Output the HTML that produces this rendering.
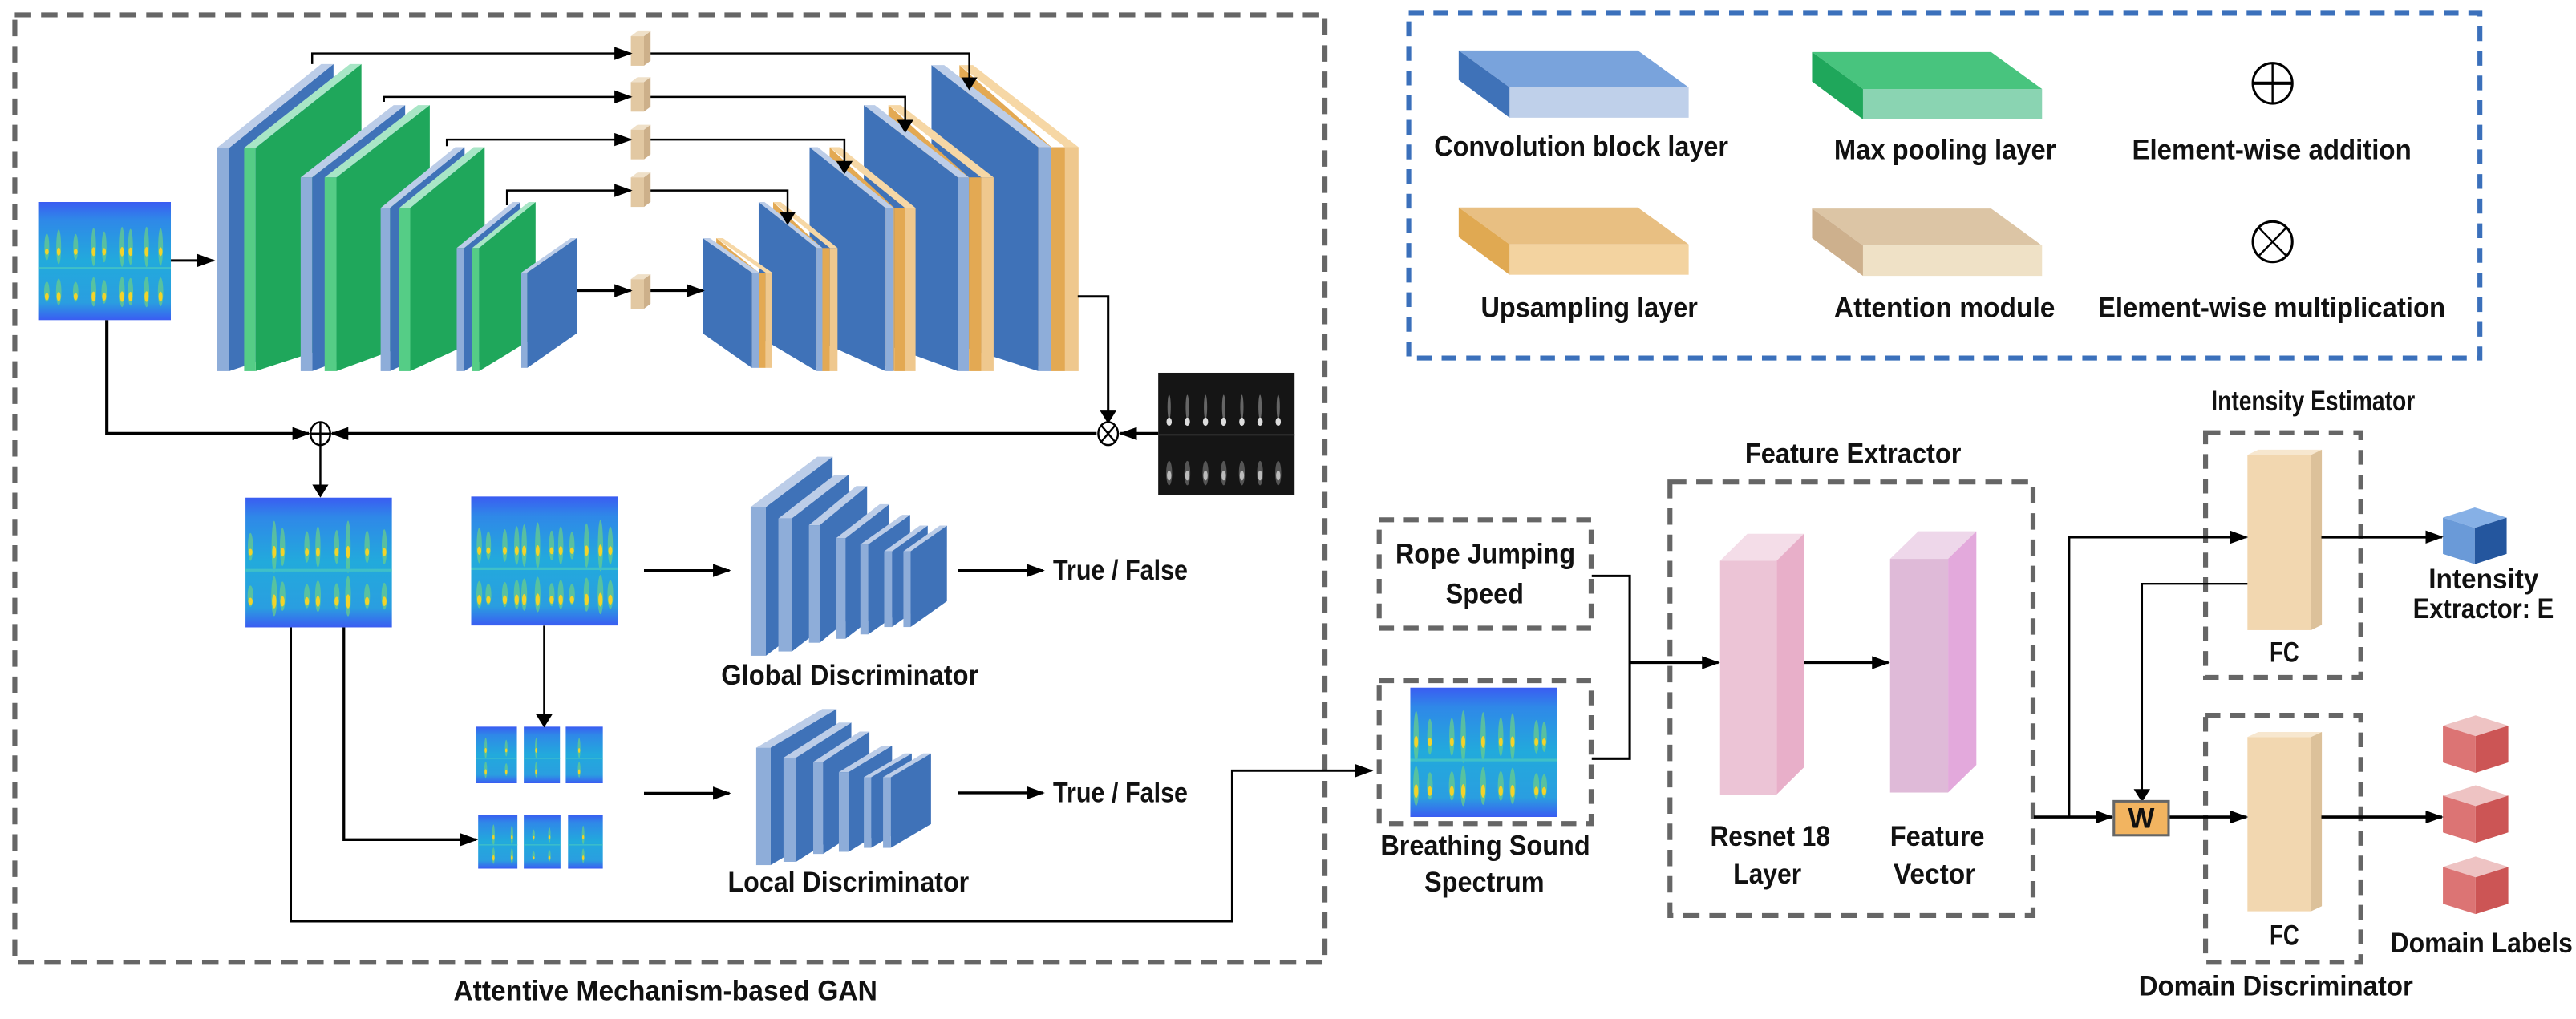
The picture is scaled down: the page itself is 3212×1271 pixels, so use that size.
<!DOCTYPE html>
<html><head><meta charset="utf-8"><style>
html,body{margin:0;padding:0;background:#fff;}
svg{display:block;}
text{font-family:"Liberation Sans Narrow","Liberation Sans",sans-serif;font-weight:bold;font-size:17px;fill:#111;}
</style></head><body>
<svg id="s" width="3212" height="1271" viewBox="0 0 1568 620.5" preserveAspectRatio="none" xmlns="http://www.w3.org/2000/svg">
<defs>
<marker id="a" markerUnits="userSpaceOnUse" markerWidth="11" markerHeight="8" refX="10" refY="4" orient="auto"><path d="M0,0 L11,4 L0,8 z" fill="#000"/></marker>
<marker id="b" markerUnits="userSpaceOnUse" markerWidth="8" markerHeight="12" refX="7" refY="6" orient="auto"><path d="M0,1 L8,6 L0,11 z" fill="#000"/></marker>
<linearGradient id="sg" x1="0" y1="0" x2="0" y2="1">
<stop offset="0" stop-color="#3a5cf2"/><stop offset="0.15" stop-color="#2f88e8"/><stop offset="0.5" stop-color="#22aadc"/><stop offset="0.85" stop-color="#2a9ee0"/><stop offset="1" stop-color="#3a5cf2"/>
</linearGradient>
</defs>
<g id="shapes"></g>
<g fill="none" stroke-width="3">
<rect x="9" y="9" width="797.5" height="577" stroke="#666" stroke-dasharray="10 6"/>
<rect x="857.5" y="8" width="652" height="210" stroke="#3b70bb" stroke-dasharray="9 6"/>
<rect x="839.5" y="316.5" width="129" height="66" stroke="#666" stroke-dasharray="9 6"/>
<rect x="839.5" y="414.5" width="129" height="87" stroke="#666" stroke-dasharray="9 6"/>
<rect x="1016.5" y="293.5" width="221" height="264" stroke="#666" stroke-dasharray="10 6"/>
<rect x="1342.5" y="263.5" width="94.5" height="149" stroke="#666" stroke-dasharray="9 6"/>
<rect x="1342.5" y="435.5" width="94.5" height="150.5" stroke="#666" stroke-dasharray="9 6"/>
</g>
<g stroke="#000" fill="none" stroke-width="1.2">
<polyline points="190,39 190,32.5 384,32.5" marker-end="url(#a)"/>
<polyline points="396,32.5 590,32.5 590,54" marker-end="url(#b)"/>
<polyline points="233.7,62 233.7,59 384,59" marker-end="url(#a)"/>
<polyline points="396,59 551,59 551,80" marker-end="url(#b)"/>
<polyline points="272,89 272,85 384,85" marker-end="url(#a)"/>
<polyline points="396,85 514,85 514,105" marker-end="url(#b)"/>
<polyline points="308.6,125 308.6,116 384,116" marker-end="url(#a)"/>
<polyline points="396,116 479.4,116 479.4,136" marker-end="url(#b)"/>
<line x1="351" y1="177" x2="384" y2="177" stroke-width="1.5" marker-end="url(#a)"/>
<line x1="396" y1="177" x2="428" y2="177" stroke-width="1.5" marker-end="url(#a)"/>
<line x1="104" y1="158.6" x2="130" y2="158.6" stroke-width="1.5" marker-end="url(#a)"/>
<polyline points="656,180.5 674.5,180.5 674.5,257" stroke-width="1.5" marker-end="url(#b)"/>
<line x1="705" y1="264" x2="682" y2="264" stroke-width="2" marker-end="url(#a)"/>
<line x1="667.5" y1="264" x2="202" y2="264" stroke-width="2" marker-end="url(#a)"/>
<polyline points="65,195 65,264 188,264" stroke-width="2" marker-end="url(#a)"/>
<line x1="195" y1="271" x2="195" y2="302" marker-end="url(#b)"/>
<line x1="392" y1="347.4" x2="444" y2="347.4" stroke-width="1.6" marker-end="url(#a)"/>
<line x1="392" y1="483" x2="444" y2="483" stroke-width="1.6" marker-end="url(#a)"/>
<line x1="583" y1="347.4" x2="635" y2="347.4" stroke-width="1.6" marker-end="url(#a)"/>
<line x1="583" y1="482.8" x2="635" y2="482.8" stroke-width="1.6" marker-end="url(#a)"/>
<line x1="331.2" y1="381" x2="331.2" y2="442" marker-end="url(#b)"/>
<polyline points="209.3,382 209.3,511.3 290,511.3" stroke-width="1.6" marker-end="url(#a)"/>
<polyline points="177,382 177,561 750,561 750,469.3 835,469.3" stroke-width="1.4" marker-end="url(#a)"/>
<polyline points="968.9,350.7 992,350.7 992,462 968.9,462" stroke-width="1.5"/>
<line x1="992" y1="403.5" x2="1046" y2="403.5" stroke-width="1.6" marker-end="url(#a)"/>
<line x1="1098" y1="403.5" x2="1149.5" y2="403.5" stroke-width="1.6" marker-end="url(#a)"/>
<line x1="1238" y1="497.5" x2="1285.7" y2="497.5" stroke-width="1.8" marker-end="url(#a)"/>
<polyline points="1259.4,497.5 1259.4,327.1 1367.5,327.1" stroke-width="1.5" marker-end="url(#a)"/>
<polyline points="1368,355.5 1303.8,355.5 1303.8,487.5" stroke-width="1.2" marker-end="url(#b)"/>
<line x1="1320" y1="497.5" x2="1367.5" y2="497.5" stroke-width="1.8" marker-end="url(#a)"/>
<line x1="1413" y1="327" x2="1486.4" y2="327" stroke-width="1.8" marker-end="url(#a)"/>
<line x1="1413" y1="497.5" x2="1486.4" y2="497.5" stroke-width="1.8" marker-end="url(#a)"/>
</g>
<g stroke="#000" fill="#fff" stroke-width="1.2">
<ellipse cx="195" cy="264" rx="6" ry="7"/><line x1="189" y1="264" x2="201" y2="264"/><line x1="195" y1="257" x2="195" y2="271"/>
<ellipse cx="674.5" cy="264" rx="6" ry="7"/><line x1="670.3" y1="259" x2="678.7" y2="269"/><line x1="678.7" y1="259" x2="670.3" y2="269"/>
<ellipse cx="1383.3" cy="50.7" rx="12" ry="12.3" stroke-width="1.5"/><line x1="1371.3" y1="50.7" x2="1395.3" y2="50.7" stroke-width="2"/><line x1="1383.3" y1="38.4" x2="1383.3" y2="63"/>
<ellipse cx="1383.3" cy="147.2" rx="12" ry="12.3" stroke-width="1.5"/><line x1="1374.8" y1="138.5" x2="1391.8" y2="155.9"/><line x1="1391.8" y1="138.5" x2="1374.8" y2="155.9"/>
</g>
<rect x="1286.7" y="487.9" width="33.3" height="20.7" fill="#f2b460" stroke="#666" stroke-width="1.5"/>
<text x="1303.4" y="504" text-anchor="middle">W</text>
<text x="873" y="95" textLength="179" lengthAdjust="spacingAndGlyphs">Convolution block layer</text>
<text x="1116.4" y="97" textLength="135" lengthAdjust="spacingAndGlyphs">Max pooling layer</text>
<text x="1297.8" y="97" textLength="170" lengthAdjust="spacingAndGlyphs">Element-wise addition</text>
<text x="901.4" y="193" textLength="132" lengthAdjust="spacingAndGlyphs">Upsampling layer</text>
<text x="1116.4" y="193" textLength="134.5" lengthAdjust="spacingAndGlyphs">Attention module</text>
<text x="1277" y="193" textLength="211.5" lengthAdjust="spacingAndGlyphs">Element-wise multiplication</text>
<text x="641" y="353" textLength="82" lengthAdjust="spacingAndGlyphs">True / False</text>
<text x="641" y="488.5" textLength="82" lengthAdjust="spacingAndGlyphs">True / False</text>
<text x="439" y="417" textLength="156.7" lengthAdjust="spacingAndGlyphs">Global Discriminator</text>
<text x="443" y="543" textLength="146.8" lengthAdjust="spacingAndGlyphs">Local Discriminator</text>
<text x="849.4" y="343" textLength="109.4" lengthAdjust="spacingAndGlyphs">Rope Jumping</text>
<text x="880" y="367.3" textLength="47.5" lengthAdjust="spacingAndGlyphs">Speed</text>
<text x="840.3" y="520.7" textLength="127.6" lengthAdjust="spacingAndGlyphs">Breathing Sound</text>
<text x="867" y="543" textLength="73" lengthAdjust="spacingAndGlyphs">Spectrum</text>
<text x="1062.2" y="282" textLength="131.6" lengthAdjust="spacingAndGlyphs">Feature Extractor</text>
<text x="1041" y="515" textLength="73" lengthAdjust="spacingAndGlyphs">Resnet 18</text>
<text x="1055" y="538" textLength="41.5" lengthAdjust="spacingAndGlyphs">Layer</text>
<text x="1150.5" y="515" textLength="57.5" lengthAdjust="spacingAndGlyphs">Feature</text>
<text x="1152.5" y="538" textLength="50" lengthAdjust="spacingAndGlyphs">Vector</text>
<text x="1381.5" y="403" textLength="18" lengthAdjust="spacingAndGlyphs">FC</text>
<text x="1381.5" y="575.4" textLength="18" lengthAdjust="spacingAndGlyphs">FC</text>
<text x="1346" y="250" textLength="124" lengthAdjust="spacingAndGlyphs">Intensity Estimator</text>
<text x="1478.3" y="358.4" textLength="67" lengthAdjust="spacingAndGlyphs">Intensity</text>
<text x="1468.7" y="376.5" textLength="85.8" lengthAdjust="spacingAndGlyphs">Extractor: E</text>
<text x="1455" y="580" textLength="111" lengthAdjust="spacingAndGlyphs">Domain Labels</text>
<text x="1301.8" y="606" textLength="167" lengthAdjust="spacingAndGlyphs">Domain Discriminator</text>
<text x="276" y="609" textLength="258" lengthAdjust="spacingAndGlyphs">Attentive Mechanism-based GAN</text>
</svg>
<script>
(function(){
var NS="http://www.w3.org/2000/svg",G=document.getElementById("shapes");
function el(t,a,p){var e=document.createElementNS(NS,t);for(var k in a)e.setAttribute(k,a[k]);(p||G).appendChild(e);return e;}
function poly(pts,f){el("polygon",{points:pts.map(function(p){return p.join(",")}).join(" "),fill:f});}
function rect(x,y,w,h,f,p){return el("rect",{x:x,y:y,width:w,height:h,fill:f},p);}
var BL={front:"#8eadd9",face:"#3f72b8",top:"#bccde8"},GR={front:"#55cd86",face:"#1fa75b",top:"#a8e6c6"},OR={front:"#e3a953",front2:"#efc88e",face:"#e3a953",top:"#f6d7a5",narrow:1};
function encL(xf,wf,yt,yb,xr,dy,c,dyb){if(dyb===undefined)dyb=Math.min(dy,21);
 poly([[xf+wf,yt],[xr,yt-dy],[xr,yb-dyb],[xf+wf,yb]],c.face);
 poly([[xf,yt],[xr-wf,yt-dy],[xr,yt-dy],[xf+wf,yt]],c.top);
 rect(xf,yt,wf,yb-yt,c.front);}
function decL(xl,xf,wf,yt,yb,dy,c){var dyb=Math.min(dy,21);
 poly([[xl,yt-dy],[xf,yt],[xf,yb],[xl,yb-dyb]],c.face);
 if(c.narrow){var w2=wf/2;poly([[xl,yt-dy],[xl+w2,yt-dy],[xf+wf,yt],[xf+wf-w2,yt]],c.top);}
 else poly([[xl,yt-dy],[xl+wf,yt-dy],[xf+wf,yt],[xf,yt]],c.top);
 if(c.front2){rect(xf,yt,wf/2,yb-yt,c.front);rect(xf+wf/2,yt,wf/2,yb-yt,c.front2);}else rect(xf,yt,wf,yb-yt,c.front);}
var seed=7;function rnd(){seed=(seed*9301+49297)%233280;return seed/233280;}
function spec(x,y,w,h,n){var g=el("g",{});var id="c"+Math.floor(rnd()*1e6);
 var cp=el("clipPath",{id:id},g);rect(x,y,w,h,"#000",cp);
 var gg=el("g",{"clip-path":"url(#"+id+")"},g);rect(x,y,w,h,"url(#sg)",gg);
 n=n||8;for(var i=0;i<n;i++){var cx=x+w*(i+0.5+(rnd()-0.5)*0.6)/n;var s=0.6+rnd()*0.6;
  el("ellipse",{cx:cx,cy:y+h*0.38,rx:w*0.012+0.5,ry:h*0.17*s,fill:"#6ccf86",opacity:0.7},gg);
  el("ellipse",{cx:cx,cy:y+h*0.42,rx:w*0.009+0.4,ry:h*0.04*s,fill:"#f2d32a"},gg);
  el("ellipse",{cx:cx,cy:y+h*0.76,rx:w*0.014+0.5,ry:h*0.13*s,fill:"#6ccf86",opacity:0.7},gg);
  el("ellipse",{cx:cx,cy:y+h*0.8,rx:w*0.01+0.4,ry:h*0.045*s,fill:"#f2d32a"},gg);}
 rect(x,y+h*0.55,w,h*0.02,"#3fc0c8",gg);}
function gray(x,y,w,h){rect(x,y,w,h,"#151515");for(var i=0;i<7;i++){var cx=x+w*(i+0.6)/7.5;
 el("ellipse",{cx:cx,cy:y+h*0.28,rx:1,ry:h*0.1,fill:"#666"});el("ellipse",{cx:cx,cy:y+h*0.4,rx:1.6,ry:2.5,fill:"#ddd"});
 el("ellipse",{cx:cx,cy:y+h*0.82,rx:1.8,ry:h*0.1,fill:"#555"});el("ellipse",{cx:cx,cy:y+h*0.84,rx:1.3,ry:3,fill:"#bbb"});}
 rect(x,y+h*0.5,w,1,"#333");}
encL(132,7.5,90,226,203,51,BL);encL(148.6,7,90,226,220,51,GR);
encL(183,7,108,226,246.6,44,BL);encL(197.6,7.2,108,226,261.6,44,GR);
encL(231.7,5.7,126.6,226,282.8,37,BL);encL(243,6.7,126.6,226,295,37,GR);
encL(278,4.6,151,226,316.8,28,BL);encL(287.4,4.2,151,226,326,28,GR);
encL(317.3,3.6,166,224,351,21,BL);
decL(584,640,16.5,89.6,226,50,OR);decL(567,632,7.7,89.6,226,50,BL);
decL(540.8,589.8,15,108,226,44,OR);decL(525.8,583,6.7,108,226,44,BL);
decL(505,544.4,12.9,126.6,226,37,OR);decL(492.8,539,5,126.6,226,37,BL);
decL(470.6,500.5,9.3,151,226,28,OR);decL(461.8,497,3.6,151,226,28,BL);
decL(436,462,8,166,224,21,OR);decL(427.8,457.7,4.3,166,224,21,BL);
[19,47,76,105,167].forEach(function(y){poly([[384,y+3],[388,y],[396,y],[392,y+3]],"#efe0c8");rect(384,y+3,8,18,"#e2c8a2");poly([[392,y+3],[396,y],[396,y+18],[392,y+21]],"#cdb08a");});
var gd=[[456.9,9.3,308.7,399.3,506.8,278.1],[473.8,8.2,315.7,396.7,516.5,289],[492.4,6.6,319.8,391.4,527.8,296],[508.9,5.8,327.7,389,541.3,307],[523.7,4.8,331.5,386.3,554,313.5],[538.2,4.8,335.7,381.8,564.7,320],[549.9,4.4,335.7,381.8,576.4,320]];
gd.forEach(function(d){var dy=d[2]-d[5];encL(d[0],d[1],d[2],d[3],d[4],dy,BL,dy);});
var ld=[[460.3,8.7,455.3,526.8,509.2,431.7],[476.9,7.6,461.4,524.8,518.2,440],[495,6,464,520,529.2,445.5],[510.6,5.9,470.2,518.7,543,454],[525.8,4.5,473.3,516.3,555,458.8],[537.5,4.8,473.3,516.3,566.7,458.8]];
ld.forEach(function(d){var dy=d[2]-d[5];encL(d[0],d[1],d[2],d[3],d[4],dy,BL,dy);});
function slab(x,y,c1,c2,c3){poly([[x,y],[x+109,y],[x+140,y+22.5],[x+31,y+22.5]],c1);poly([[x,y],[x+31,y+22.5],[x+31,y+41],[x,y+18]],c2);rect(x+31,y+22.5,109,18.5,c3);}
slab(887.9,30.7,"#79a3dc","#3f72b8","#bfd0ea");slab(1103,31.7,"#48c47e","#1fa75b","#8ad4b2");
slab(887.9,126.3,"#e8bf82","#e0a952","#f3d3a0");slab(1103,127,"#dcc5a5","#cdb08d","#efe1c6");
spec(23.7,123,80.3,72,9);spec(149.4,303,89.2,79,9);spec(286.8,302.3,89.2,78.6,12);
spec(289.9,442.4,24.8,34.6,2);spec(318.8,442.4,22.1,34.6,1);spec(344.3,442.4,22.7,34.6,1);
spec(291,496,24,33,2);spec(318.8,496,22.4,33,2);spec(345.7,496,21.3,33,1);
spec(858.4,418.7,89.3,78.8,9);
gray(705,227,83,74.5);
function prismR(x1,x2,yt,yb,xr,ytop,fr,sd,tp){poly([[x1,yt],[x1+(xr-x2),ytop],[xr,ytop],[x2,yt]],tp);poly([[x2,yt],[xr,ytop],[xr,yb-(yt-ytop)],[x2,yb]],sd);rect(x1,yt,x2-x1,yb-yt,fr);}
prismR(1047,1081.4,341.5,483.8,1098,325,"#ecc4d6","#e8afc9","#f4dde8");
prismR(1150.5,1185.8,340.3,482.6,1203,323.5,"#dfbad8","#e3a9dc","#eed7ea");
prismR(1368,1406.7,277,383.7,1413.3,273.8,"#f2d7b0","#dcc19a","#f7e7cf");
prismR(1368,1406.7,448.8,554.9,1413.3,445.7,"#f2d7b0","#dcc19a","#f7e7cf");
function cube(x,y,w,h,tp,l,r){var cx=x+w/2,t=h*0.18;poly([[x,y+t],[cx,y],[x+w,y+t],[cx,y+2*t]],tp);poly([[x,y+t],[cx,y+2*t],[cx,y+h],[x,y+h-t]],l);poly([[cx,y+2*t],[x+w,y+t],[x+w,y+h-t],[cx,y+h]],r);}
cube(1487,309,38.8,34.5,"#86b0e6","#6a9ad8","#24569e");
cube(1487,435.6,39.8,35,"#eec3c3","#dc7474","#cc5555");
cube(1487,478.2,39.8,35,"#eec3c3","#dc7474","#cc5555");
cube(1487,521.6,39.8,35,"#eec3c3","#dc7474","#cc5555");
})();
</script>
</body></html>
